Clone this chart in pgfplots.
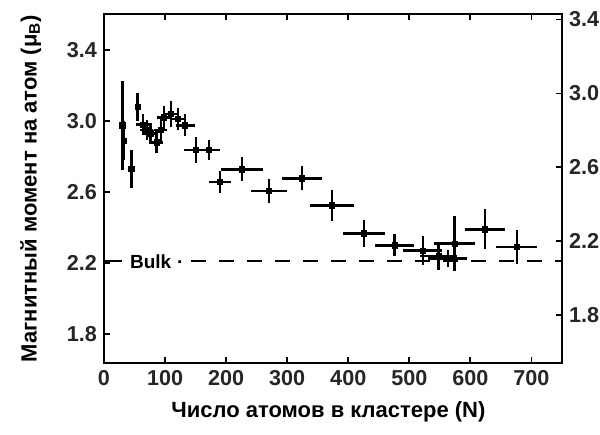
\documentclass[border=0pt]{standalone}
\usepackage{fontspec}
\setmainfont{Liberation Sans}
\usepackage{pgfplots}
\pgfplotsset{compat=1.18}
\pgfplotstableread{
N    m      ex   ey
30   2.975  0    0.225
33   2.89   0    0.085
45   2.73   0    0.08
55   3.08   0    0.05
64   2.98   3    0.03
70   2.95   3    0.03
76   2.93   3    0.03
86   2.88   3    0.035
93   2.95   3    0.04
98   3.02   3    0.04
110  3.04   5    0.045
121  3.01   5    0.035
133  2.975  8    0.035
151  2.837  12   0.045
172  2.837  10   0.03
190  2.658  10   0.035
226  2.728  26   0.04
270  2.607  21   0.04
324  2.677  25   0.04
373  2.525  28   0.06
426  2.367  26   0.05
476  2.30   24   0.035
522  2.27   24   0.055
548  2.24   22   0.05
563  2.225  24   0.02
574  2.31   26   0.127
624  2.39   25   0.085
676  2.292  26   0.07
}\datatable
\begin{document}
\begin{tikzpicture}[font=\bfseries]
\useasboundingbox (-52pt,-35.5pt) rectangle (248pt,181.5pt);
\begin{axis}[
  at={(0,0)}, anchor=south west,
  scale only axis, width=229pt, height=174.5pt,
  xmin=0, xmax=750, ymin=1.637, ymax=3.603,
  xtick={0,100,...,700}, ytick={1.8,2.2,2.6,3.0,3.4},
  xtick pos=both, xticklabel pos=bottom, ytick pos=left,
  tick align=inside, major tick length=3pt,
  axis line style={line width=1pt},
  every tick/.style={line width=0.9pt, black},
  tick label style={font=\bfseries\fontsize{10.8}{12}\selectfont, text=black!85},
  /pgf/number format/assume math mode=true,
  yticklabel style={/pgf/number format/.cd, fixed, fixed zerofill, precision=1},
  xticklabel style={/pgf/number format/.cd, fixed, 1000 sep={}},
  xlabel={Число атомов в кластере (N)},
  ylabel={Магнитный момент на атом (μ\textsubscript{B})},
  label style={font=\bfseries\fontsize{11}{12}\selectfont},
  xlabel style={at={(axis description cs:0.49,-0.14)}, anchor=center},
  ylabel style={at={(axis description cs:-0.16,0.5)}, anchor=center},
  clip=false,
]
\addplot[black, line width=1pt] coordinates {(0,2.21) (30,2.21)};
\addplot[black, line width=1pt, dash pattern=on 7.5pt off 6.5pt] coordinates {(143,2.21) (750,2.21)};
\node[anchor=west, inner sep=0pt, font=\bfseries\fontsize{9.5}{11}\selectfont] at (axis cs:42,2.21) {Bulk\hspace{3pt}·};
\addplot[black, only marks, mark=square*, mark size=1.3pt,
  error bars/.cd, x dir=both, x explicit, y dir=both, y explicit,
  error bar style={line width=1.2pt, black},
  error mark options={line width=1.2pt, mark size=2.4pt, black}]
  table[x=N, y=m, x error=ex, y error=ey] {\datatable};
\end{axis}
\begin{axis}[
  at={(0,0)}, anchor=south west,
  scale only axis, width=229pt, height=174.5pt,
  xmin=0, xmax=750, ymin=1.54, ymax=3.43,
  axis x line=none, axis y line*=right,
  ytick={1.8,2.2,2.6,3.0,3.4},
  tick align=inside, major tick length=3pt,
  axis line style={line width=1pt, -},
  every tick/.style={line width=0.9pt, black},
  tick label style={font=\bfseries\fontsize{10.8}{12}\selectfont, text=black!85},
  /pgf/number format/assume math mode=true,
  yticklabel style={/pgf/number format/.cd, fixed, fixed zerofill, precision=1},
]
\addplot[draw=none] coordinates {(100,2.0)};
\end{axis}
\end{tikzpicture}
\end{document}
